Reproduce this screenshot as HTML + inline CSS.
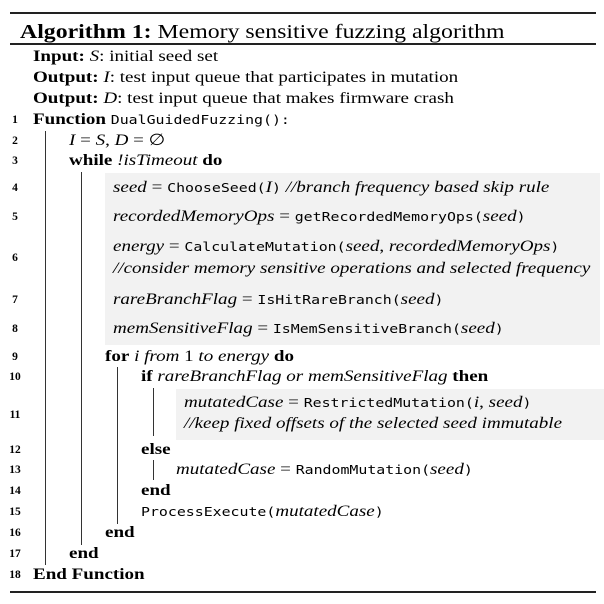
<!DOCTYPE html>
<html><head><meta charset="utf-8"><style>
body{margin:0;width:604px;height:604px;background:#fff;position:relative;overflow:hidden;font-family:"Liberation Serif",serif;color:#000}
.r{position:absolute;left:10px;width:586px;background:#222}
.t{position:absolute;white-space:nowrap;font-size:16px;line-height:20px;transform:scaleX(1.19);transform-origin:0 50%}
.n{position:absolute;left:6px;width:18px;text-align:center;font-weight:bold;font-size:11.5px;line-height:20px}
.v{position:absolute;width:1.3px;background:#333}
.g{position:absolute;background:#f2f2f2}
code{font-family:"DejaVu Sans Mono",monospace;font-size:12.5px}
i{font-style:italic}
</style></head><body>
<div class="r" style="top:12px;height:2px"></div>
<div class="t" style="left:20px;top:20px;font-size:20px;line-height:24px"><b>Algorithm 1:</b> Memory sensitive fuzzing algorithm</div>
<div class="r" style="top:43px;height:1.5px"></div>
<div class="r" style="top:591px;height:1.5px"></div>

<div class="g" style="left:105px;top:173px;width:495px;height:172px"></div>
<div class="g" style="left:176px;top:389px;width:428px;height:51px"></div>

<div class="v" style="left:45px;top:131px;height:434px"></div>
<div class="v" style="left:81px;top:172px;height:373px"></div>
<div class="v" style="left:117px;top:367px;height:157px"></div>
<div class="v" style="left:153px;top:388px;height:48px"></div>
<div class="v" style="left:153px;top:460px;height:20px"></div>

<div class="t" style="left:33px;top:47px"><b>Input:</b> <i>S</i>: initial seed set</div>
<div class="t" style="left:33px;top:68px"><b>Output:</b> <i>I</i>: test input queue that participates in mutation</div>
<div class="t" style="left:33px;top:89px"><b>Output:</b> <i>D</i>: test input queue that makes firmware crash</div>

<div class="n" style="top:110px">1</div>
<div class="t" style="left:33px;top:110px"><b>Function</b> <code>DualGuidedFuzzing():</code></div>
<div class="n" style="top:131px">2</div>
<div class="t" style="left:69px;top:131px"><i>I</i> = <i>S</i>, <i>D</i> = ∅</div>
<div class="n" style="top:151px">3</div>
<div class="t" style="left:69px;top:151px"><b>while</b> <i>!isTimeout</i> <b>do</b></div>
<div class="n" style="top:178px">4</div>
<div class="t" style="left:113px;top:178px"><i>seed</i> = <code>ChooseSeed(</code><i>I</i><code>)</code> <i>//branch frequency based skip rule</i></div>
<div class="n" style="top:207px">5</div>
<div class="t" style="left:113px;top:207px"><i>recordedMemoryOps</i> = <code>getRecordedMemoryOps(</code><i>seed</i><code>)</code></div>
<div class="n" style="top:248px">6</div>
<div class="t" style="left:113px;top:237px"><i>energy</i> = <code>CalculateMutation(</code><i>seed</i>, <i>recordedMemoryOps</i><code>)</code></div>
<div class="t" style="left:113px;top:259px"><i>//consider memory sensitive operations and selected frequency</i></div>
<div class="n" style="top:290px">7</div>
<div class="t" style="left:113px;top:290px"><i>rareBranchFlag</i> = <code>IsHitRareBranch(</code><i>seed</i><code>)</code></div>
<div class="n" style="top:319px">8</div>
<div class="t" style="left:113px;top:319px"><i>memSensitiveFlag</i> = <code>IsMemSensitiveBranch(</code><i>seed</i><code>)</code></div>
<div class="n" style="top:347px">9</div>
<div class="t" style="left:105px;top:347px"><b>for</b> <i>i from</i> 1 <i>to energy</i> <b>do</b></div>
<div class="n" style="top:367px">10</div>
<div class="t" style="left:141px;top:367px"><b>if</b> <i>rareBranchFlag or memSensitiveFlag</i> <b>then</b></div>
<div class="n" style="top:405px">11</div>
<div class="t" style="left:184px;top:393px"><i>mutatedCase</i> = <code>RestrictedMutation(</code><i>i</i>, <i>seed</i><code>)</code></div>
<div class="t" style="left:184px;top:414px"><i>//keep fixed offsets of the selected seed immutable</i></div>
<div class="n" style="top:440px">12</div>
<div class="t" style="left:141px;top:440px"><b>else</b></div>
<div class="n" style="top:460px">13</div>
<div class="t" style="left:176px;top:460px"><i>mutatedCase</i> = <code>RandomMutation(</code><i>seed</i><code>)</code></div>
<div class="n" style="top:481px">14</div>
<div class="t" style="left:141px;top:481px"><b>end</b></div>
<div class="n" style="top:502px">15</div>
<div class="t" style="left:141px;top:502px"><code>ProcessExecute(</code><i>mutatedCase</i><code>)</code></div>
<div class="n" style="top:523px">16</div>
<div class="t" style="left:105px;top:523px"><b>end</b></div>
<div class="n" style="top:544px">17</div>
<div class="t" style="left:69px;top:544px"><b>end</b></div>
<div class="n" style="top:565px">18</div>
<div class="t" style="left:33px;top:565px"><b>End Function</b></div>
</body></html>
